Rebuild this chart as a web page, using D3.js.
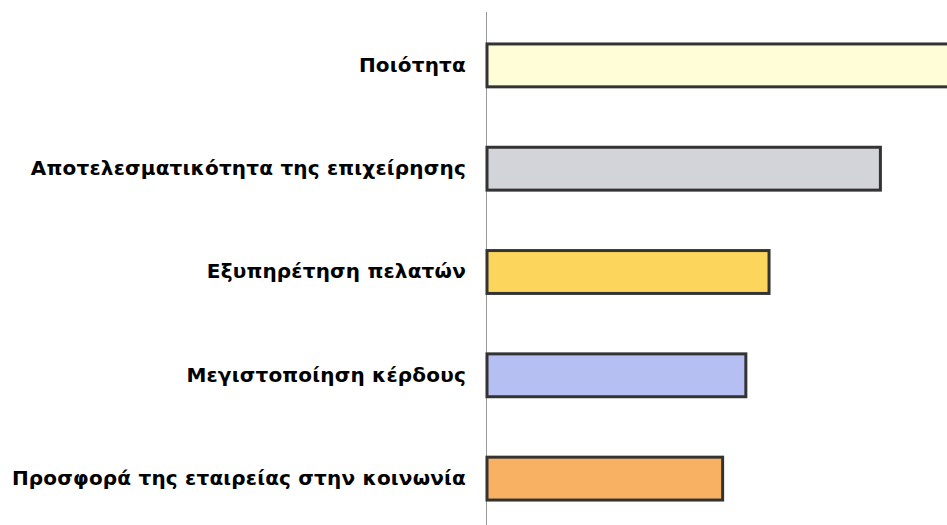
<!DOCTYPE html>
<html><head><meta charset="utf-8">
<script src="https://cdn.jsdelivr.net/npm/d3@7"></script>
<style>html,body{margin:0;padding:0;background:#fff;}</style>
</head><body>
<script>
const categories = ["Ποιότητα", "Αποτελεσματικότητα της επιχείρησης", "Εξυπηρέτηση πελατών", "Μεγιστοποίηση κέρδους", "Προσφορά της εταιρείας στην κοινωνία"];
const values = [100, 85, 61, 56, 51];
const colors = ["#FEFDD8", "#D3D3DA", "#FCD65C", "#B5BFF1", "#F8B062"];

const W = 947, H = 525;
const svg = d3.select("body").append("svg").attr("width", W).attr("height", H);

const x = d3.scaleLinear().domain([0, 100]).range([486, 950]);
const y = d3.scaleBand().domain(categories).range([14, 530]).paddingInner(0.585).paddingOuter(0.29);

// axis line
svg.append("line").attr("x1", 486.5).attr("x2", 486.5).attr("y1", 12).attr("y2", H)
  .attr("stroke", "#999").attr("stroke-width", 1);

svg.selectAll("rect.bar").data(categories).join("rect")
  .attr("class", "bar")
  .attr("x", x(0) + 1)
  .attr("y", d => y(d))
  .attr("width", (d, i) => x(values[i]) - x(0) - 1)
  .attr("height", y.bandwidth())
  .attr("fill", (d, i) => colors[i])
  .attr("stroke", "#333")
  .attr("stroke-width", 3);

const yAxis = d3.axisLeft(y).tickSize(0).tickPadding(20);
const g = svg.append("g").attr("transform", `translate(${x(0)},0)`).call(yAxis);
g.select(".domain").remove();
g.selectAll("text").attr("font-family", "DejaVu Sans, sans-serif")
  .attr("font-size", 20).attr("font-weight", "bold").attr("fill", "#000")
  .attr("letter-spacing", 0.2);
</script>
</body></html>
